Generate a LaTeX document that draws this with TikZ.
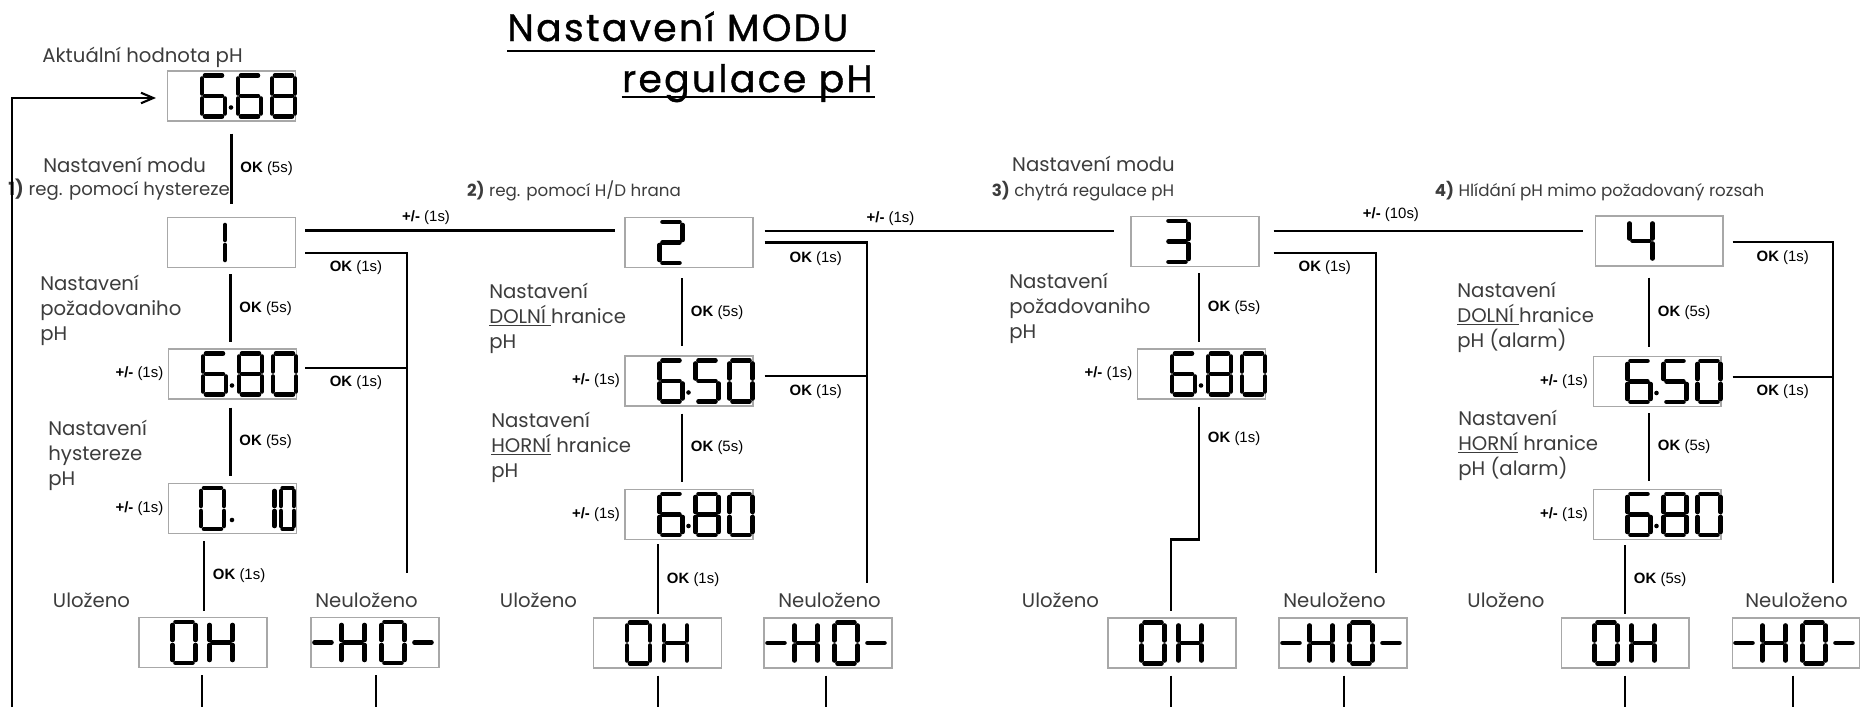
\documentclass[tikz,border=0pt]{standalone}
\usepackage{fontspec}
\setmainfont{Poppins}
\newfontfamily\keyfont{Liberation Sans}
\newfontfamily\titlefont{Poppins}[FakeBold=1, LetterSpace=6]
\usetikzlibrary{positioning,calc,arrows.meta}

\definecolor{txtgray}{HTML}{3C3C3C}
\definecolor{boxgray}{HTML}{A8A8A8}

% segmenty jedne cislice (w=23, h=41)
\newcommand{\segpart}[1]{%
  \if a#1\draw[seg] (3,0) -- (20,0);\fi
  \if b#1\draw[seg] (23,3) -- (23,18);\fi
  \if c#1\draw[seg] (23,23) -- (23,38);\fi
  \if d#1\draw[seg] (3,41) -- (20,41);\fi
  \if e#1\draw[seg] (0,23) -- (0,38);\fi
  \if f#1\draw[seg] (0,3) -- (0,18);\fi
  \if g#1\draw[seg] (3,20.5) -- (20,20.5);\fi}
\newcommand{\segdigit}[4][]{%
  \begin{scope}[shift={($(#2.north west)+(#3,5)$)},#1]
    \foreach \s in #4 {\segpart{\s}}
  \end{scope}}
\newcommand{\segdot}[1]{\fill ($(#1.north west)+(64,37)$) circle (1.3pt);}

\def\chZero{a,b,c,d,e,f}
\def\chOne{b,c}
\def\chTwo{a,b,g,e,d}
\def\chThree{a,b,g,c,d}
\def\chFour{f,g,b,c}
\def\chFive{a,f,g,c,d}
\def\chSix{a,f,g,e,c,d}
\def\chEight{a,b,c,d,e,f,g}
\def\chH{b,c,e,f,g}
\def\chDash{g}

\tikzset{
  disp/.style={draw=boxgray, line width=0.6pt, minimum width=2.56cm, minimum height=1cm, inner sep=0pt},
  seg/.style={line width=2.6pt, line cap=round},
  link/.style={line width=1.2pt},
  title/.style={font=\titlefont\fontsize{21.5}{26}\selectfont, inner sep=0pt},
  lbl/.style={font=\fontsize{11.2}{14.2}\selectfont, text=txtgray, align=left, inner sep=0pt},
  sub/.style={font=\fontsize{9.5}{11}\selectfont, text=txtgray, inner sep=0pt},
  key/.style={font=\keyfont\fontsize{8.5}{10}\selectfont, inner sep=2.5pt},
}

\begin{document}
\begin{tikzpicture}[x=0.02cm, y=-0.02cm]
    \useasboundingbox (0,0) rectangle (1860,707);

    % Nadpis
    \node[title, anchor=base west] (t1) at (507,41) {Nastavení MODU};
    \node[title, anchor=base east] (t2) at (873,92) {regulace pH};
    \draw[line width=1.3pt] ($(t1.base west)+(0,10)$) -- ($(t1.base west -| t2.base east)+(2,10)$);
    \draw[line width=1.3pt] ($(t2.base west)+(0,5)$) -- ($(t2.base east)+(2,5)$);

    % Displeje - sloupec 1
    \node[disp] (act) at (231.5,96) {};
    \node[disp] (m1) at (231.5,242.5) {};
    \node[disp] (a1) at (232.5,374) {};
    \node[disp] (b1) at (232.5,508.5) {};
    \node[disp] (ok1) at (203,642.5) {};
    \node[disp] (no1) at (375,642.5) {};

    % Displeje - sloupec 2
    \node[disp] (m2) at (689,242.5) {};
    \node[disp] (a2) at (689,381) {};
    \node[disp] (b2) at (689,514.5) {};
    \node[disp] (ok2) at (657.5,643) {};
    \node[disp] (no2) at (828,643) {};

    % Displeje - sloupec 3
    \node[disp] (m3) at (1195,241.5) {};
    \node[disp] (a3) at (1201.5,374) {};
    \node[disp] (ok3) at (1172,643) {};
    \node[disp] (no3) at (1343,643) {};

    % Displeje - sloupec 4
    \node[disp] (m4) at (1659,241) {};
    \node[disp] (a4) at (1657,381.5) {};
    \node[disp] (b4) at (1657,514.5) {};
    \node[disp] (ok4) at (1625,643) {};
    \node[disp] (no4) at (1796,643) {};

    % Cislice
    \segdigit{act}{35}{\chSix} \segdot{act} \segdigit{act}{71}{\chSix} \segdigit{act}{105}{\chEight}
    \segdigit{m1}{35}{\chOne}
    \segdigit{a1}{35}{\chSix} \segdot{a1} \segdigit{a1}{71}{\chEight} \segdigit{a1}{105}{\chZero}
    \segdigit{b1}{33}{\chZero} \segdot{b1} \segdigit{b1}{83.5}{\chOne} \segdigit[xscale=0.565]{b1}{113}{\chZero}
    \segdigit{m2}{35}{\chTwo}
    \segdigit{a2}{35}{\chSix} \segdot{a2} \segdigit{a2}{71}{\chFive} \segdigit{a2}{105}{\chZero}
    \segdigit{b2}{35}{\chSix} \segdot{b2} \segdigit{b2}{71}{\chEight} \segdigit{b2}{105}{\chZero}
    \segdigit{m3}{35}{\chThree}
    \segdigit{a3}{35}{\chSix} \segdot{a3} \segdigit{a3}{71}{\chEight} \segdigit{a3}{105}{\chZero}
    \segdigit{m4}{35}{\chFour}
    \segdigit{a4}{35}{\chSix} \segdot{a4} \segdigit{a4}{71}{\chFive} \segdigit{a4}{105}{\chZero}
    \segdigit{b4}{35}{\chSix} \segdot{b4} \segdigit{b4}{71}{\chEight} \segdigit{b4}{105}{\chZero}
    \foreach \b in {ok1,ok2,ok3,ok4} {
        \segdigit{\b}{34}{\chZero} \segdigit{\b}{71}{\chH}
    }
    \foreach \b in {no1,no2,no3,no4} {
        \segdigit{\b}{1}{\chDash} \segdigit{\b}{31}{\chH} \segdigit{\b}{71}{\chZero} \segdigit{\b}{101}{\chDash}
    }

    % Popisky
    \node[lbl, anchor=base west] (cur) at (42,62) {Aktuální hodnota pH};
    \node[lbl, anchor=base west] (mod1) at (43,172) {Nastavení modu};
    \node[sub, anchor=base west, font=\fontsize{10.3}{12}\selectfont] (s1) at (8,195) {\textbf{1)} reg. pomocí hystereze};
    \node[lbl, anchor=west] (q1) at (40,310) {Nastavení\\požadovaniho\\pH};
    \node[lbl, anchor=west] (h1) at (48,455) {Nastavení\\hystereze\\pH};
    \node[sub, anchor=base] (s2) at (574,196) {\textbf{2)} reg. pomocí H/D hrana};
    \node[lbl, anchor=west] (d2) at (489,318) {Nastavení\\\underline{DOLNÍ\ }hranice\\pH};
    \node[lbl, anchor=west] (u2) at (491,447) {Nastavení\\\underline{HORNÍ} hranice\\pH};
    \node[lbl, anchor=base] (mod3) at (1093.5,171) {Nastavení modu};
    \node[sub, anchor=base] (s3) at (1083,196) {\textbf{3)} chytrá regulace pH};
    \node[lbl, anchor=west] (q3) at (1009,308) {Nastavení\\požadovaniho\\pH};
    \node[sub, anchor=base] (s4) at (1599.5,196) {\textbf{4)} Hlídání pH mimo požadovaný rozsah};
    \node[lbl, anchor=west] (d4) at (1457,317) {Nastavení\\\underline{DOLNÍ\ }hranice\\pH (alarm)};
    \node[lbl, anchor=west] (u4) at (1458,445) {Nastavení\\\underline{HORNÍ} hranice\\pH (alarm)};
    \foreach \c/\x/\y in {1/91.5/366.5, 2/538.5/829.5, 3/1060.5/1334.5, 4/1506/1796.5} {
        \node[lbl, anchor=base] (lok\c) at (\x,607) {Uloženo};
        \node[lbl, anchor=base] (lno\c) at (\y,607) {Neuloženo};
    }

    % +/- u displeju
    \foreach \b in {a1,b1,a2,b2,a3,a4,b4} {
        \node[key, left=0pt of \b] (pm\b) {\textbf{+/-} (1s)};
    }

    % Navrat na aktualni hodnotu
    \coordinate (loopbot) at (12,707);
    \draw[link, -{Straight Barb[length=7pt,width=6pt]}] (loopbot) |- ($(act.west)+(-11,2)$);

    % Prepinani modu
    \draw[link] ($(m1.east)+(9,-12)$) -- node[key, above, pos=0.39] {\textbf{+/-} (1s)} ($(m2.west)+(-9,-12)$);
    \draw[link] ($(m2.east)+(11,-11.5)$) -- node[key, above, pos=0.36] {\textbf{+/-} (1s)} ($(m3.west |- m2.east)+(-16,-11.5)$);
    \draw[link] ($(m3.east)+(14,-10.5)$) -- node[key, above=2pt, pos=0.38] {\textbf{+/-} (10s)} ($(m4.west |- m3.east)+(-12,-10.5)$);

    % Sloupec 1
    \draw[link] ($(act.south)+(0,12)$) -- node[key, right=2pt] {\textbf{OK} (5s)} ($(m1.north)+(0,-13)$);
    \draw[link] ($(m1.south)+(-1,6)$) -- node[key, right=2pt] {\textbf{OK} (5s)} ($(m1.south |- a1.north)+(-1,-6)$);
    \draw[link] ($(a1.south)+(-2,8)$) -- node[key, right=2pt] {\textbf{OK} (5s)} ($(b1.north)+(-2,-7)$);
    \draw[link] ($(b1.south -| ok1.north)+(1,7)$) -- node[key, right=2pt] {\textbf{OK} (1s)} ($(ok1.north)+(1,-6)$);
    \coordinate (r1) at (407,573);
    \draw[link] ($(m1.east)+(9,10.5)$) -| node[key, below=1pt, pos=0.25] {\textbf{OK} (1s)} (r1);
    \draw[link] ($(a1.east)+(8,-6)$) -- node[key, below=1pt] {\textbf{OK} (1s)} ($(a1.east -| r1)+(0,-6)$);

    % Sloupec 2
    \draw[link] ($(m2.south)+(-7,10)$) -- node[key, right=2pt] {\textbf{OK} (5s)} ($(m2.south |- a2.north)+(-7,-9)$);
    \draw[link] ($(a2.south)+(-7,7)$) -- node[key, right=2pt] {\textbf{OK} (5s)} ($(b2.north)+(-7,-7)$);
    \draw[link] ($(b2.south -| ok2.north)+(0.5,4)$) -- node[key, right=2pt] {\textbf{OK} (1s)} ($(ok2.north)+(0.5,-3)$);
    \coordinate (r2) at (867,583);
    \draw[link] ($(m2.east)+(11,0)$) -| node[key, below=2pt, pos=0.25] {\textbf{OK} (1s)} (r2);
    \draw[link] ($(a2.east)+(11,-5)$) -- node[key, below=2pt] {\textbf{OK} (1s)} ($(a2.east -| r2)+(0,-5)$);

    % Sloupec 3
    \draw[link] ($(m3.south)+(4,6)$) -- node[key, right=2pt] {\textbf{OK} (5s)} ($(m3.south |- a3.north)+(4,-6)$);
    \draw[link] ($(a3.south)+(-2.5,7)$) |- node[key, right=2pt, pos=0.12] {\textbf{OK} (1s)} ($(ok3.north)+(-1,-78)$) -- ($(ok3.north)+(-1,-6)$);
    \coordinate (r3) at (1376,573);
    \draw[link] ($(m3.east)+(14,11.5)$) -| node[key, below=1pt, pos=0.25] {\textbf{OK} (1s)} (r3);

    % Sloupec 4
    \draw[link] ($(m4.south)+(-10,11)$) -- node[key, right=2pt] {\textbf{OK} (5s)} ($(m4.south |- a4.north)+(-10,-9)$);
    \draw[link] ($(a4.south)+(-8,6)$) -- node[key, right=2pt] {\textbf{OK} (5s)} ($(b4.north)+(-8,-8)$);
    \draw[link] ($(b4.south -| ok4.north)+(0,5)$) -- node[key, right=2pt] {\textbf{OK} (5s)} ($(ok4.north)+(0,-3)$);
    \coordinate (r4) at (1833,583);
    \draw[link] ($(m4.east)+(9,1)$) -| node[key, below=2pt, pos=0.25] {\textbf{OK} (1s)} (r4);
    \draw[link] ($(a4.east)+(11,-4.5)$) -- node[key, below=1pt] {\textbf{OK} (1s)} ($(a4.east -| r4)+(0,-4.5)$);

    % Vystupy dolu
    \coordinate (bot) at (0,707);
    \foreach \b/\dx in {ok1/-1, no1/1, ok2/0.5, no2/-2, ok3/-1, no3/1, ok4/0, no4/-3} {
        \draw[link] ($(\b.south)+(\dx,7)$) -- ($(\b.south |- bot)+(\dx,0)$);
    }

\end{tikzpicture}
\end{document}
